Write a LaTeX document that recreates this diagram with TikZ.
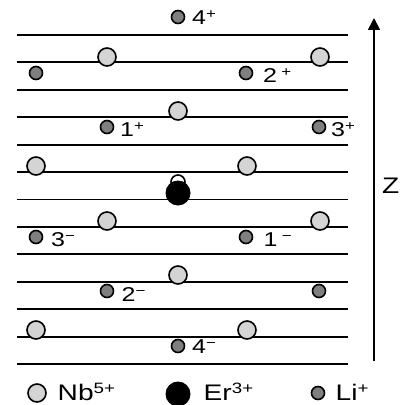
\documentclass[tikz,border=0pt]{standalone}
\usepackage{fontspec}
\setmainfont{Liberation Sans}
\usetikzlibrary{arrows.meta}
\definecolor{nbgray}{HTML}{D4D4D4}
\definecolor{ligray}{HTML}{7F7F7F}
\tikzset{
  plane/.style={line width=1.9pt},
  nb/.style={circle, draw, line width=1.6pt, fill=nbgray, minimum size=18pt, inner sep=0pt},
  li/.style={circle, draw, line width=1.6pt, fill=ligray, minimum size=13pt, inner sep=0pt},
  er/.style={circle, fill=black, minimum size=25pt, inner sep=0pt},
  vac/.style={circle, draw, line width=1.6pt, fill=white, minimum size=14pt, inner sep=0pt},
  lbl/.style={anchor=base west, inner sep=0pt, font=\fontsize{20}{22}\selectfont},
  key/.style={anchor=base west, inner sep=0pt, font=\fontsize{22.5}{24}\selectfont},
}
% wide sans lettering with raised charge signs
\newcommand{\widetxt}[1]{\scalebox{1.25}[1]{#1}}
\newcommand{\ionup}[1]{\raisebox{6pt}{\fontsize{13.5}{14}\selectfont #1}}
\newcommand{\keyup}[1]{\raisebox{6.5pt}{\fontsize{15}{15}\selectfont #1}}
\begin{document}
\begin{tikzpicture}[x=1pt,y=-1pt]
\useasboundingbox (0,0) rectangle (406,404);

% lattice planes
\foreach \i in {0,...,12}
  \draw[plane] (17,{35+27.42*\i}) -- (348,{35+27.42*\i});

% Nb sites
\node[nb] (nb1) at (107,57) {};
\node[nb] (nb2) at (320,57) {};
\node[nb] (nb3) at (178,111) {};
\node[nb] (nb4) at (36,166) {};
\node[nb] (nb5) at (247,166) {};
\node[nb] (nb6) at (107,221) {};
\node[nb] (nb7) at (320,221) {};
\node[nb] (nb8) at (178,275) {};
\node[nb] (nb9) at (36,330) {};
\node[nb] (nb10) at (247,330) {};

% Li sites
\node[li] (li4p) at (178,17) {};
\node[li] (lia) at (36,73) {};
\node[li] (li2p) at (246,73) {};
\node[li] (li1p) at (107,127) {};
\node[li] (li3p) at (319,127) {};
\node[li] (li3m) at (36,237) {};
\node[li] (li1m) at (246,237) {};
\node[li] (li2m) at (107,291) {};
\node[li] (lib) at (319,291) {};
\node[li] (li4m) at (178,346) {};

% site labels
\node[lbl] (t4p) at (192,25) {\widetxt{4\ionup{+}}};
\node[lbl] (t2p) at (263,82) {\widetxt{2\,\ionup{+}}};
\node[lbl] (t1p) at (120,136) {\widetxt{1\ionup{+}}};
\node[lbl] (t3p) at (331,136.5) {\widetxt{3\ionup{+}}};
\node[lbl] (t3m) at (51,246) {\widetxt{3\ionup{−}}};
\node[lbl] (t1m) at (263.5,246) {\widetxt{1\,\ionup{−}}};
\node[lbl] (t2m) at (121.5,301) {\widetxt{2\ionup{−}}};
\node[lbl] (t4m) at (192,353) {\widetxt{4\ionup{−}}};

% Er centre with shifted site
\node[vac] (vac) at (178,182) {};
\node[er] (er) at (178,193) {};

% z axis
\coordinate (zbot) at (374,361);
\coordinate (ztop) at (374,18);
\draw[line width=1.7pt, -{Triangle[width=12pt,length=12pt]}] (zbot) -- (ztop);
\node[key] (zl) at (382,193) {\widetxt{Z}};

% legend
\node[nb] (knb) at (37,393) {};
\node[key] (tnb) at (57.5,400) {\widetxt{Nb\keyup{5+}}};
\node[er] (ker) at (178,394) {};
\node[key] (ter) at (203.5,400) {\widetxt{Er\keyup{3+}}};
\node[li] (kli) at (318,393) {};
\node[key] (tli) at (335.5,400) {\widetxt{Li\keyup{+}}};
\end{tikzpicture}
\end{document}
